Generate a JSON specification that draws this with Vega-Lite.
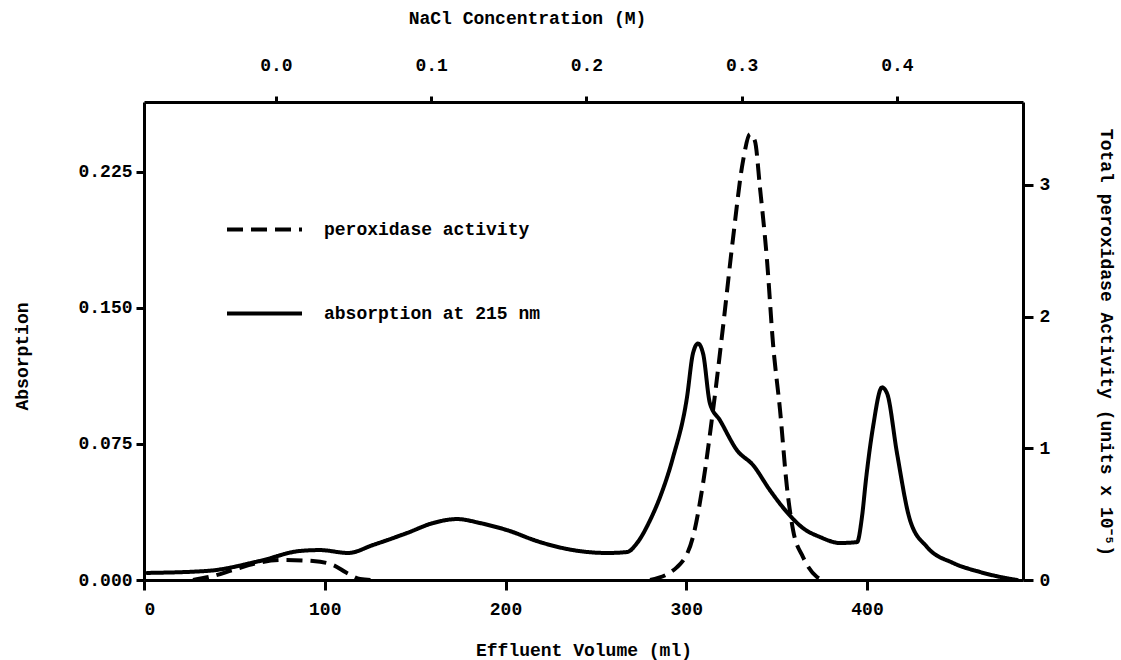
{
  "$schema": "https://vega.github.io/schema/vega-lite/v6.json",
  "autosize": {"type": "none"},
  "padding": {"left": 144, "top": 102, "right": 98, "bottom": 80},
  "width": 879,
  "height": 478,
  "background": "white",
  "datasets": {
    "absorption": [
      {"ml": 1.7, "A": 0.0039}, {"ml": 34.9, "A": 0.0050}, {"ml": 64.2, "A": 0.0105},
      {"ml": 86.3, "A": 0.0160}, {"ml": 97.4, "A": 0.0165}, {"ml": 112.9, "A": 0.0149},
      {"ml": 126.7, "A": 0.0193}, {"ml": 145.5, "A": 0.0259}, {"ml": 159.9, "A": 0.0314},
      {"ml": 173.2, "A": 0.0336}, {"ml": 185.9, "A": 0.0314}, {"ml": 200.8, "A": 0.0275},
      {"ml": 219.1, "A": 0.0209}, {"ml": 237.3, "A": 0.0165}, {"ml": 256.2, "A": 0.0149},
      {"ml": 267.2, "A": 0.0154}, {"ml": 272.8, "A": 0.0204}, {"ml": 280.0, "A": 0.0330},
      {"ml": 285.5, "A": 0.0457}, {"ml": 292.7, "A": 0.0677}, {"ml": 300.4, "A": 0.1007},
      {"ml": 303.7, "A": 0.1249}, {"ml": 306.5, "A": 0.1304}, {"ml": 309.3, "A": 0.1249},
      {"ml": 313.1, "A": 0.0974}, {"ml": 318.7, "A": 0.0880}, {"ml": 328.1, "A": 0.0715},
      {"ml": 337.0, "A": 0.0633}, {"ml": 346.3, "A": 0.0495}, {"ml": 355.7, "A": 0.0374},
      {"ml": 364.6, "A": 0.0286}, {"ml": 374.0, "A": 0.0237}, {"ml": 385.0, "A": 0.0204},
      {"ml": 394.5, "A": 0.0209}, {"ml": 397.2, "A": 0.0347}, {"ml": 399.5, "A": 0.0560},
      {"ml": 403.3, "A": 0.0842}, {"ml": 408.3, "A": 0.1062}, {"ml": 411.1, "A": 0.1029},
      {"ml": 416.6, "A": 0.0699}, {"ml": 423.8, "A": 0.0330}, {"ml": 433.2, "A": 0.0182},
      {"ml": 447.6, "A": 0.0094}, {"ml": 462.5, "A": 0.0044}, {"ml": 473.6, "A": 0.0017},
      {"ml": 483.0, "A": 0.0}
    ],
    "activity": [
      {"peak": "first", "ml": 27.1, "units": 0.0}, {"peak": "first", "ml": 38.2, "units": 0.03},
      {"peak": "first", "ml": 49.2, "units": 0.076}, {"peak": "first", "ml": 62.5, "units": 0.129},
      {"peak": "first", "ml": 76.9, "units": 0.152}, {"peak": "first", "ml": 93.5, "units": 0.144},
      {"peak": "first", "ml": 104.6, "units": 0.114}, {"peak": "first", "ml": 112.3, "units": 0.053},
      {"peak": "first", "ml": 119.5, "units": 0.008}, {"peak": "first", "ml": 126.7, "units": 0.0},
      {"peak": "second", "ml": 280.0, "units": 0.0}, {"peak": "second", "ml": 294.9, "units": 0.098},
      {"peak": "second", "ml": 303.7, "units": 0.326}, {"peak": "second", "ml": 309.3, "units": 0.735},
      {"peak": "second", "ml": 314.8, "units": 1.288}, {"peak": "second", "ml": 320.3, "units": 1.917},
      {"peak": "second", "ml": 325.9, "units": 2.598}, {"peak": "second", "ml": 331.4, "units": 3.182},
      {"peak": "second", "ml": 335.3, "units": 3.386}, {"peak": "second", "ml": 338.0, "units": 3.333},
      {"peak": "second", "ml": 340.8, "units": 2.977}, {"peak": "second", "ml": 344.7, "units": 2.424},
      {"peak": "second", "ml": 348.0, "units": 1.795}, {"peak": "second", "ml": 351.9, "units": 1.288},
      {"peak": "second", "ml": 355.7, "units": 0.705}, {"peak": "second", "ml": 359.1, "units": 0.379},
      {"peak": "second", "ml": 364.6, "units": 0.174}, {"peak": "second", "ml": 372.3, "units": 0.023},
      {"peak": "second", "ml": 375.7, "units": 0.0}
    ],
    "nacl": [
      {"M": 0.0}, {"M": 0.1}, {"M": 0.2}, {"M": 0.3}, {"M": 0.4}
    ]
  },
  "layer": [
    {
      "data": {"name": "absorption"},
      "mark": {"type": "line", "interpolate": "monotone", "strokeWidth": 4, "color": "black", "strokeCap": "round", "strokeJoin": "round"},
      "encoding": {
        "x": {"field": "ml", "type": "quantitative",
              "scale": {"domain": [0, 486.3], "nice": false, "zero": false},
              "axis": {"orient": "bottom", "title": "Effluent Volume (ml)", "values": [0, 100, 200, 300, 400],
                       "tickSize": 10, "labelPadding": 10, "titleY": 70, "titleBaseline": "middle"}},
        "y": {"field": "A", "type": "quantitative",
              "scale": {"domain": [0, 0.2636], "nice": false},
              "axis": {"orient": "left", "title": "Absorption", "values": [0, 0.075, 0.15, 0.225], "format": ".3f",
                       "tickSize": 8, "labelPadding": 4, "titleAngle": 270, "titleX": -122, "titleY": 254,
                       "titleAlign": "center", "titleBaseline": "middle"}},
        "strokeDash": {"datum": "absorption at 215 nm", "type": "nominal",
                       "scale": {"domain": ["peroxidase activity", "absorption at 215 nm"], "range": [[16, 8], [1, 0]]},
                       "legend": {"orient": "none", "legendX": 81, "legendY": 88, "title": null,
                                  "symbolType": "stroke", "symbolSize": 5625, "symbolStrokeWidth": 4,
                                  "symbolStrokeColor": "black", "labelFont": "Liberation Mono", "labelFontWeight": "bold",
                                  "labelFontSize": 18, "labelColor": "black", "labelOffset": 20, "labelLimit": 0,
                                  "rowPadding": 35, "padding": 0}}
      }
    },
    {
      "data": {"name": "activity"},
      "mark": {"type": "line", "interpolate": "monotone", "strokeWidth": 4, "color": "black", "strokeJoin": "round"},
      "encoding": {
        "x": {"field": "ml", "type": "quantitative",
              "scale": {"domain": [0, 486.3], "nice": false, "zero": false}, "axis": null},
        "y": {"field": "units", "type": "quantitative",
              "scale": {"domain": [0, 3.63], "nice": false},
              "axis": {"orient": "right", "title": "Total peroxidase Activity (units x 10⁻⁵)", "values": [0, 1, 2, 3],
                       "tickSize": 10, "labelPadding": 6, "titleAngle": 90, "titleX": 82, "titleY": 240,
                       "titleAlign": "center", "titleBaseline": "middle"}},
        "detail": {"field": "peak", "type": "nominal"},
        "strokeDash": {"datum": "peroxidase activity", "type": "nominal"}
      }
    },
    {
      "data": {"name": "nacl"},
      "mark": {"type": "rule", "opacity": 0},
      "encoding": {
        "x": {"field": "M", "type": "quantitative",
              "scale": {"domain": [-0.085, 0.4812], "nice": false, "zero": false},
              "axis": {"orient": "top", "title": "NaCl Concentration (M)", "values": [0, 0.1, 0.2, 0.3, 0.4], "format": ".1f",
                       "tickSize": 6, "labelPadding": 22, "titleX": 383, "titleY": -84, "titleBaseline": "middle"}}
      }
    }
  ],
  "resolve": {
    "scale": {"x": "independent", "y": "independent"},
    "axis": {"x": "independent", "y": "independent"}
  },
  "config": {
    "view": {"stroke": null},
    "axis": {
      "grid": false,
      "domainColor": "black", "domainWidth": 3,
      "tickColor": "black", "tickWidth": 3,
      "labelFont": "Liberation Mono", "labelFontWeight": "bold", "labelFontSize": 18, "labelColor": "black",
      "titleFont": "Liberation Mono", "titleFontWeight": "bold", "titleFontSize": 18, "titleColor": "black"
    }
  }
}
